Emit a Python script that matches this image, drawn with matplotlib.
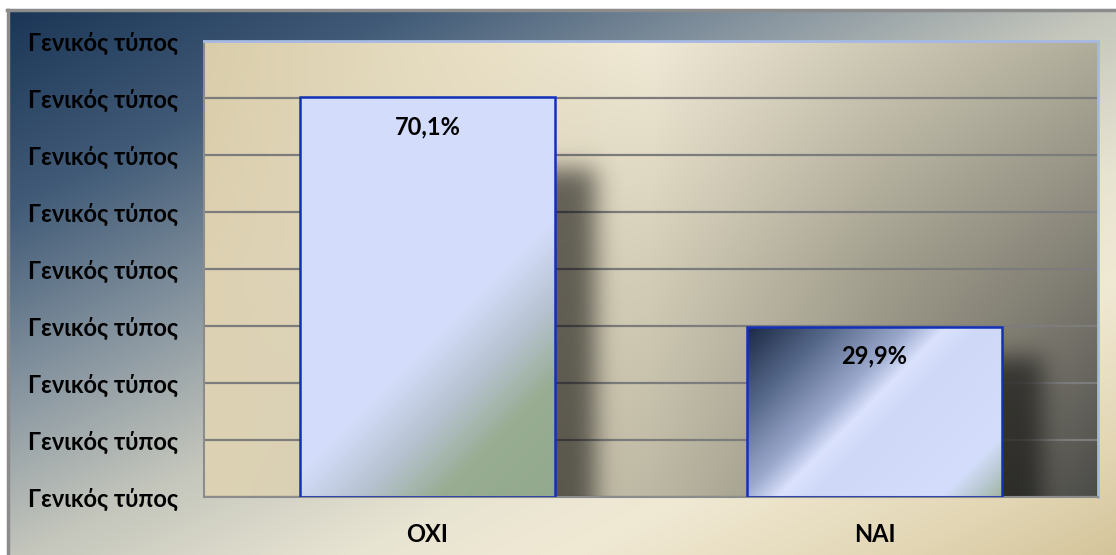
import math
import numpy as np
import matplotlib
matplotlib.use('Agg')
import matplotlib.pyplot as plt
from matplotlib.colors import to_rgb
from matplotlib.lines import Line2D

# survey answers
categories = ['ΟΧΙ', 'ΝΑΙ']
percent = [70.1, 29.9]
value_labels = ['70,1%', '29,9%']
y_ticks = [0, 10, 20, 30, 40, 50, 60, 70, 80]
y_tick_labels = ['Γενικός τύπος'] * len(y_ticks)

plt.rcParams['font.family'] = ['Lato', 'DejaVu Sans']

W, H, DPI = 1116, 555, 100
FS = 17


def ramp(t, stops):
    pos = [p for p, c in stops]
    cols = np.array([to_rgb(c) for p, c in stops])
    out = np.empty(t.shape + (3,))
    for k in range(3):
        out[..., k] = np.interp(t, pos, cols[:, k])
    return out


def grid_fill(grid, ny, nx):
    # bilinear blend of a small grid of colours
    g = np.array([[to_rgb(c) for c in row] for row in grid])
    gy, gx = g.shape[:2]
    yy = np.linspace(0, gy - 1, ny)
    xx = np.linspace(0, gx - 1, nx)
    y0 = np.clip(np.floor(yy).astype(int), 0, gy - 2)
    x0 = np.clip(np.floor(xx).astype(int), 0, gx - 2)
    fy = (yy - y0)[:, None, None]
    fx = (xx - x0)[None, :, None]
    a = g[y0][:, x0]
    b = g[y0][:, x0 + 1]
    c = g[y0 + 1][:, x0]
    d = g[y0 + 1][:, x0 + 1]
    return (a * (1 - fx) + b * fx) * (1 - fy) + (c * (1 - fx) + d * fx) * fy


frame_stops = [(0.0, '#1b3556'), (0.18, '#405a77'), (0.35, '#8795a0'),
               (0.5, '#c4c6bc'), (0.65, '#e8e4d2'), (0.75, '#f0e9d4'),
               (0.9, '#e2d6b4'), (1.0, '#d4c49a')]

plot_grid = [
    ['#d9cdaa', '#e6dcc0', '#f0e9d5', '#cfcab6', '#b1ad9b'],
    ['#ddd1b2', '#e0d7bd', '#d3cdb7', '#a39f8e', '#7e7b71'],
    ['#ddd2b3', '#d5cdb6', '#bdb8a3', '#8c897c', '#4a4a47'],
]

bar_stops = [
    [(0.0, '#d4defc'), (0.57, '#d4defc'), (0.7, '#b6c2d0'),
     (0.82, '#98ad92'), (1.0, '#93a98d')],
    [(0.0, '#1a2842'), (0.2, '#56688a'), (0.38, '#9aa8cc'),
     (0.47, '#dae2fd'), (0.55, '#cfd9f7'), (0.85, '#d4defc'),
     (0.93, '#b8c8d0'), (1.0, '#a0b49c')],
]

fig = plt.figure(figsize=(W / DPI, H / DPI), dpi=DPI)
fig.patch.set_facecolor('white')

# outer chart area
bh, bw = H - 10, W - 7
bg = fig.add_axes([7 / W, 0, bw / W, bh / H])
yy, xx = np.mgrid[0:bh, 0:bw]
bg.imshow(ramp((xx + 2 * yy) / (bw + 2 * bh), frame_stops),
          aspect='auto', extent=(0, 1, 0, 1))
bg.set_axis_off()

fig.add_artist(Line2D([7 / W, 1], [bh / H, bh / H], color='#8c8c8c', lw=2.5,
                      transform=fig.transFigure))
fig.add_artist(Line2D([8 / W, 8 / W], [0, bh / H], color='#8c8c8c', lw=2.5,
                      transform=fig.transFigure))

# plot area
ax = fig.add_axes([204 / W, 58 / H, 894 / W, 456 / H])
ax.imshow(grid_fill(plot_grid, 456, 894), extent=(-0.5, 1.5, 0, 80),
          aspect='auto', zorder=0)
ax.set_xlim(-0.5, 1.5)
ax.set_ylim(0, 80)
ax.set_yticks(y_ticks)
ax.set_yticklabels(y_tick_labels, fontsize=FS, fontweight='bold')
ax.set_xticks(range(len(categories)))
ax.set_xticklabels(categories, fontsize=FS, fontweight='bold')
ax.tick_params(axis='y', length=0, pad=19)
ax.tick_params(axis='x', length=0, pad=19)
ax.yaxis.grid(True, color='#7c7c7c', lw=1.6)
ax.set_axisbelow(True)
for side in ['top', 'right']:
    ax.spines[side].set_color('#a6b9e3')
    ax.spines[side].set_linewidth(2)
for side in ['left', 'bottom']:
    ax.spines[side].set_color('#8c8c8c')
    ax.spines[side].set_linewidth(1.5)

bars = ax.bar(range(len(categories)), percent, width=0.57, facecolor='none',
              edgecolor='#1230b8', linewidth=1.8, zorder=3)

px_x = ax.transData.transform((1, 0))[0] - ax.transData.transform((0, 0))[0]
px_y = ax.transData.transform((0, 1))[1] - ax.transData.transform((0, 0))[1]

erf = np.vectorize(math.erf)
sig, off, pad = 12.0, 40.0, 36

for rect, stops, label in zip(bars, bar_stops, value_labels):
    x0, w, h = rect.get_x(), rect.get_width(), rect.get_height()
    wpx, hpx = int(round(w * px_x)), int(round(h * px_y))

    # soft drop shadow behind the bar
    shp = 0.82 * hpx
    nx, ny = wpx + 2 * pad, int(shp) + 2 * pad
    xs = np.arange(nx) - pad
    ys = (ny - 1 - np.arange(ny)) - pad
    fx = 0.5 * (erf(xs / (sig * 1.414)) - erf((xs - wpx) / (sig * 1.414)))
    fy = 0.5 * (1 - erf((ys - shp) / (sig * 1.414)))
    sh = np.zeros((ny, nx, 4))
    sh[..., 3] = 0.55 * fy[:, None] * fx[None, :]
    sx0 = x0 + (off - pad) / px_x
    ax.imshow(sh, extent=(sx0, sx0 + nx / px_x, -pad / px_y, (ny - pad) / px_y),
              aspect='auto', zorder=1)

    # diagonal gradient fill
    gy, gx = np.mgrid[0:hpx, 0:wpx]
    fill = ramp((gx + gy) / (wpx + hpx), stops)
    img = ax.imshow(fill, extent=(x0, x0 + w, 0, h), aspect='auto', zorder=2)
    img.set_clip_path(rect)

    ax.annotate(label, (x0 + w / 2, h), xytext=(0, -29),
                textcoords='offset pixels', ha='center', va='center',
                fontsize=FS, fontweight='bold', zorder=5)

ax.set_xlim(-0.5, 1.5)
ax.set_ylim(0, 80)

fig.savefig('out.png', dpi=DPI)
